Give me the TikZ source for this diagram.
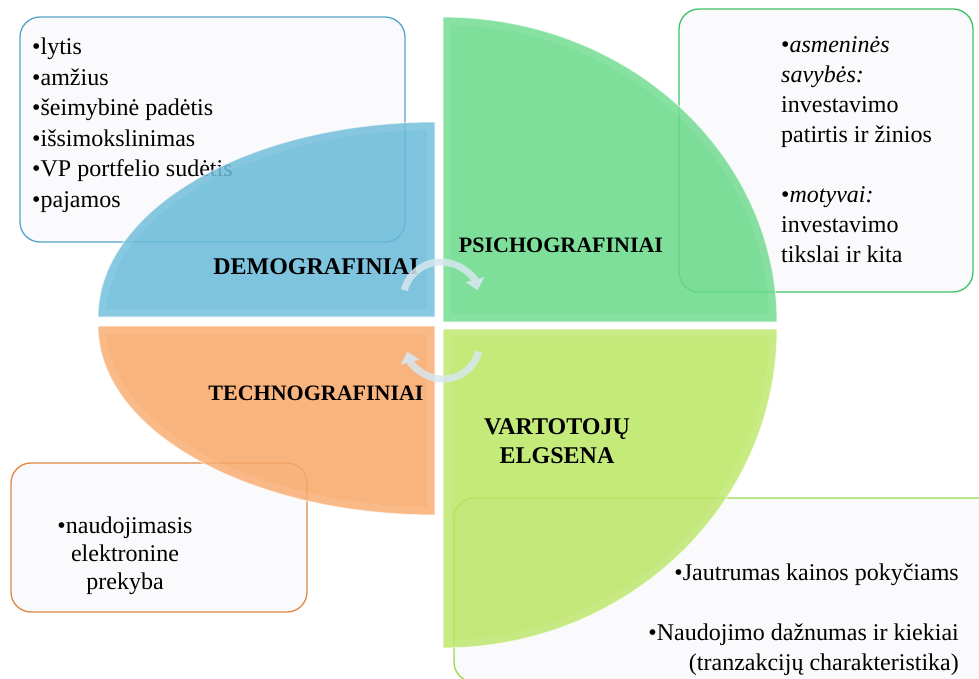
\documentclass[tikz,border=0pt]{standalone}
\usepackage{fontspec}
\setmainfont{Liberation Serif}
\usetikzlibrary{arrows.meta}
\definecolor{qblue}{RGB}{103,186,216}
\definecolor{qgreen}{RGB}{103,217,136}
\definecolor{qorange}{RGB}{248,167,103}
\definecolor{qlime}{RGB}{186,230,99}
\definecolor{bblue}{RGB}{85,165,205}
\definecolor{bgreen}{RGB}{60,195,100}
\definecolor{borange}{RGB}{225,135,65}
\definecolor{blime}{RGB}{150,215,75}
\definecolor{boxfill}{RGB}{250,250,252}
\definecolor{arrowc}{RGB}{215,230,238}
\tikzset{
  infobox/.style={fill=boxfill, line width=1.3pt, rounded corners=20pt},
  quad/.style={fill opacity=0.85, draw=white, draw opacity=0.6, line width=1.2pt},
  bevel/.style={draw=white, draw opacity=0.08, line width=16pt},
  boxtext/.style={inner sep=0pt, font=\fontsize{24}{30.5}\selectfont},
  qlabel/.style={inner sep=0pt, font=\fontsize{24}{29}\selectfont\bfseries, align=center},
  cyc/.style={draw=arrowc, line width=7pt, opacity=0.85, -{Triangle[width=19pt,length=11pt]}},
}
\begin{document}
\begin{tikzpicture}[x=1pt,y=-1pt]
\useasboundingbox (0,0) rectangle (979,679);
\clip (0,0) rectangle (979,679);
% info boxes
\draw[infobox, draw=bblue] (20,17) rectangle (405,242);
\draw[infobox, draw=bgreen] (679,9) rectangle (973,292);
\draw[infobox, draw=borange] (11,463) rectangle (307,612);
\draw[infobox, draw=blime] (454,498) rectangle (1000,682);
% box texts (base anchor = baseline of last line)
\node[boxtext, anchor=base west, align=left] (tdemo) at (32,207.5)
  {•lytis\\•amžius\\•šeimybinė padėtis\\•išsimokslinimas\\•VP portfelio sudėtis\\•pajamos};
\node[boxtext, anchor=base west, align=left, font=\fontsize{24}{30}\selectfont] (tpsy) at (781,262)
  {•\textit{asmeninės}\\\textit{savybės:}\\investavimo\\patirtis ir žinios\\[30pt]•\textit{motyvai:}\\investavimo\\tikslai ir kita};
\node[boxtext, anchor=base, align=center, font=\fontsize{24}{28}\selectfont] (ttech) at (125,589)
  {•naudojimasis\\elektronine\\prekyba};
\node[boxtext, anchor=base east, align=right, font=\fontsize{24}{30}\selectfont] (tbeh) at (959,670)
  {•Jautrumas kainos pokyčiams\\[30pt]•Naudojimo dažnumas ir kiekiai\\(tranzakcijų charakteristika)};
% quadrants
\def\qA{(435,317) -- (98,317) arc[start angle=180, end angle=90, x radius=337pt, y radius=195pt] -- cycle}
\def\qB{(443,322) -- (443,17) arc[start angle=90, end angle=0, x radius=334pt, y radius=305pt] -- cycle}
\def\qC{(435,326) -- (98,326) arc[start angle=180, end angle=270, x radius=337pt, y radius=189pt] -- cycle}
\def\qD{(443,329) -- (777,329) arc[start angle=0, end angle=-90, x radius=334pt, y radius=319pt] -- cycle}
\fill[quad, fill=qblue] \qA;
\fill[quad, fill=qgreen] \qB;
\fill[quad, fill=qorange] \qC;
\fill[quad, fill=qlime] \qD;
\begin{scope}\clip \qA; \draw[bevel] \qA; \end{scope}
\begin{scope}\clip \qB; \draw[bevel] \qB; \end{scope}
\begin{scope}\clip \qC; \draw[bevel] \qC; \end{scope}
\begin{scope}\clip \qD; \draw[bevel] \qD; \end{scope}
% labels
\node[qlabel, anchor=base] (ldemo) at (316,274) {DEMOGRAFINIAI};
\node[qlabel, anchor=base, font=\fontsize{22}{27}\selectfont\bfseries] (lpsy) at (561,252) {PSICHOGRAFINIAI};
\node[qlabel, anchor=base, font=\fontsize{22}{27}\selectfont\bfseries] (ltech) at (316,400) {TECHNOGRAFINIAI};
\node[qlabel, anchor=base] (lbeh) at (557,463) {VARTOTOJŲ\\ELGSENA};
% cycle arrows
\draw[cyc] (441,300) ++(165:38pt) arc[start angle=165, end angle=15, radius=38pt];
\draw[cyc] (443,342) ++(-15:37pt) arc[start angle=-15, end angle=-165, radius=37pt];
\end{tikzpicture}
\end{document}
